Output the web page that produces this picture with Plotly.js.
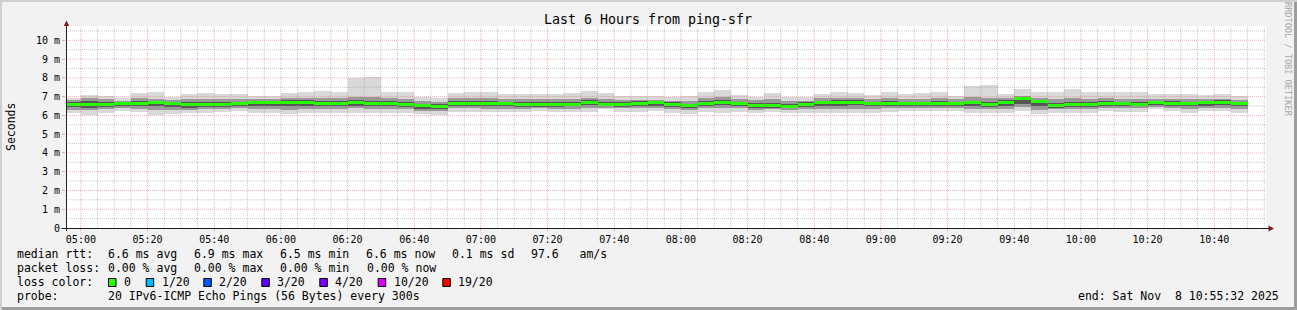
<!DOCTYPE html>
<html>
<head>
<meta charset="utf-8">
<script src="https://cdn.plot.ly/plotly-3.0.1.min.js"></script>
<style>
html,body{margin:0;padding:0;background:#f2f2f2;}
#chart{width:1297px;height:310px;}
</style>
</head>
<body>
<div id="chart"></div>
<script>
// ---- data (milliseconds of round-trip time, one value per 5-minute step) ----
const stepStart = "2025-11-08 04:55:00";   // first (partial) step
const stepSeconds = 300;
const rangeStart = "2025-11-08 04:55:32";
const rangeEnd = "2025-11-08 10:55:32";

const medianRtt = [6.58,6.58,6.58,6.61,6.61,6.67,6.61,6.58,6.58,6.58,
  6.61,6.67,6.68,6.70,6.70,6.65,6.63,6.70,6.61,6.61,
  6.58,6.51,6.49,6.63,6.65,6.61,6.61,6.58,6.58,6.58,
  6.60,6.70,6.58,6.58,6.65,6.68,6.58,6.51,6.63,6.70,
  6.61,6.54,6.54,6.46,6.58,6.68,6.70,6.70,6.61,6.61,
  6.61,6.61,6.61,6.61,6.67,6.58,6.70,6.88,6.72,6.53,
  6.56,6.56,6.65,6.61,6.58,6.68,6.65,6.61,6.68,6.70,6.61];
const maxRtt = [6.93,7.11,7.04,6.91,7.19,7.25,6.98,7.12,7.19,7.12,
  7.12,7.02,7.02,7.19,7.23,7.30,7.23,8.00,8.07,7.23,
  7.23,7.00,6.95,7.19,7.23,7.23,7.12,7.12,7.12,7.12,
  7.19,7.30,7.19,7.02,7.02,7.02,6.98,7.02,7.23,7.33,
  7.09,6.98,7.19,6.98,6.98,7.16,7.23,7.19,7.09,7.23,
  7.16,7.19,7.23,7.05,7.54,7.61,7.16,7.40,7.26,7.26,
  7.40,7.26,7.26,7.26,7.26,7.16,7.16,7.12,7.09,7.16,7.05];
const minRtt = [6.11,6.02,6.14,6.25,6.19,6.02,6.05,6.14,6.14,6.19,
  6.25,6.14,6.11,6.07,6.14,6.11,6.14,6.14,6.14,6.14,
  6.14,6.07,6.02,6.19,6.19,6.19,6.19,6.19,6.25,6.19,
  6.19,6.19,6.32,6.19,6.19,6.25,6.11,6.05,6.19,6.14,
  6.19,6.11,6.19,6.14,6.14,6.11,6.11,6.14,6.11,6.19,
  6.25,6.25,6.25,6.25,6.14,6.11,6.11,6.25,6.07,6.14,
  6.14,6.14,6.25,6.19,6.19,6.32,6.25,6.14,6.25,6.25,6.11];
const lowRtt = [6.30,6.30,6.32,6.40,6.35,6.28,6.30,6.30,6.32,6.35,
  6.38,6.35,6.35,6.30,6.35,6.32,6.35,6.38,6.35,6.35,
  6.35,6.25,6.22,6.38,6.38,6.36,6.36,6.36,6.38,6.36,
  6.36,6.40,6.42,6.38,6.40,6.40,6.32,6.28,6.38,6.40,
  6.38,6.30,6.35,6.28,6.32,6.35,6.35,6.36,6.32,6.38,
  6.40,6.40,6.40,6.40,6.35,6.32,6.35,6.45,6.30,6.32,
  6.34,6.34,6.40,6.38,6.38,6.45,6.40,6.35,6.40,6.40,6.32];
const highRtt = [6.80,6.90,6.88,6.78,6.90,6.88,6.80,6.85,6.88,6.85,
  6.85,6.85,6.85,6.92,6.92,6.95,6.90,7.00,6.98,6.90,
  6.88,6.75,6.72,6.90,6.92,6.90,6.85,6.85,6.85,6.85,
  6.88,6.95,6.85,6.80,6.82,6.82,6.78,6.75,6.90,6.98,
  6.85,6.80,6.88,6.75,6.78,6.90,6.92,6.90,6.85,6.90,
  6.88,6.88,6.90,6.85,7.00,6.95,6.92,7.05,6.92,6.85,
  6.90,6.88,6.90,6.88,6.88,6.88,6.88,6.85,6.85,6.88,6.82];
const coreLowRtt = [6.45,6.42,6.45,6.50,6.48,6.50,6.45,6.38,6.45,6.45,
  6.50,6.52,6.52,6.50,6.52,6.50,6.50,6.52,6.48,6.48,
  6.46,6.35,6.33,6.50,6.52,6.50,6.48,6.45,6.46,6.46,
  6.48,6.55,6.48,6.47,6.50,6.52,6.45,6.40,6.50,6.55,
  6.50,6.42,6.42,6.38,6.45,6.52,6.52,6.55,6.48,6.50,
  6.50,6.50,6.50,6.50,6.50,6.45,6.52,6.62,6.50,6.42,
  6.45,6.45,6.52,6.50,6.48,6.55,6.52,6.48,6.52,6.55,6.48];
const coreHighRtt = [6.70,6.75,6.72,6.70,6.75,6.78,6.70,6.70,6.72,6.70,
  6.72,6.76,6.76,6.80,6.80,6.78,6.75,6.80,6.75,6.75,
  6.70,6.62,6.60,6.75,6.76,6.74,6.72,6.70,6.70,6.70,
  6.72,6.82,6.70,6.70,6.75,6.76,6.70,6.62,6.75,6.82,
  6.72,6.66,6.68,6.60,6.70,6.78,6.80,6.80,6.72,6.74,
  6.72,6.72,6.74,6.72,6.78,6.72,6.80,6.95,6.82,6.66,
  6.70,6.70,6.76,6.73,6.72,6.78,6.76,6.72,6.76,6.80,6.72];

const yTickVals = [0,1,2,3,4,5,6,7,8,9,10];
const yTickText = ["0","1 m","2 m","3 m","4 m","5 m","6 m","7 m","8 m","9 m","10 m"];
const lossLabels = ["0","1/20","2/20","3/20","4/20","10/20","19/20"];
const lossColors = ["#26ff00","#00b8ff","#0059ff","#5e00ff","#7e00ff","#dd00ff","#ff0000"];

// ---- geometry helpers (plot area in pixels) ----
const W = 1297, H = 310;
const L = 66, R = 1266, T = 26, B = 228;
const PW = R - L, PH = B - T;
const yMax = 10.762;
const px = x => (x - L) / PW;
const py = y => (B - y) / PH;
const MONO = "DejaVu Sans Mono";

function toMs(s){ const p = s.split(/[- :]/).map(Number); return Date.UTC(p[0],p[1]-1,p[2],p[3],p[4],p[5]); }
const t0 = toMs(stepStart);
const centers = medianRtt.map((_, i) => t0 + (i + 0.5) * stepSeconds * 1000);

function band(lo, hi, color){
  return {type:"bar", x:centers, base:lo, y:hi.map((h,i)=>h-lo[i]),
    width:stepSeconds*1000, marker:{color:color, line:{width:0}},
    hoverinfo:"skip", showlegend:false};
}
const medHalf = 0.08;
const traces = [
  band(minRtt, maxRtt, "#d9d9d9"),
  band(lowRtt, highRtt, "#999999"),
  band(coreLowRtt, coreHighRtt, "#555555"),
  band(medianRtt.map(v=>v-medHalf), medianRtt.map(v=>v+medHalf), lossColors[0])
];

// ---- grid lines drawn above the smoke (as rrdtool does) ----
const shapes = [];
const gridCol = "rgba(143,143,143,0.5)", mgridCol = "rgba(222,79,79,0.45)";
for (let k = 1; k <= 21; k++) {
  const v = k * 0.5;
  if (v > yMax) break;
  const major = Number.isInteger(v);
  shapes.push({type:"line", xref:"paper", yref:"y", x0:0, x1:1, y0:v, y1:v, layer:"above",
    line:{color: major ? mgridCol : gridCol, width:1, dash:"1px,1px"}});
}
const rStart = toMs(rangeStart), rEnd = toMs(rangeEnd);
for (let t = Math.ceil(rStart/300000)*300000; t <= rEnd; t += 300000) {
  const major = (t % 1200000) === 0;
  shapes.push({type:"line", xref:"x", yref:"paper", x0:t, x1:t, y0:0, y1:1, layer:"above",
    line:{color: major ? mgridCol : gridCol, width:1, dash:"1px,1px"}});
}
// axes and arrows
shapes.push({type:"line", xref:"paper", yref:"paper", x0:px(61.5), x1:px(1269), y0:py(228.5), y1:py(228.5), layer:"above", line:{color:"#1f1f1f", width:1}});
shapes.push({type:"line", xref:"paper", yref:"paper", x0:px(66.5), x1:px(66.5), y0:py(231), y1:py(24), layer:"above", line:{color:"#1f1f1f", width:1}});
function pth(pts){ return "M" + pts.map(p => px(p[0]) + "," + py(p[1])).join(" L") + " Z"; }
shapes.push({type:"path", xref:"paper", yref:"paper", path:pth([[63.8,26],[69.3,26],[66.5,20.5]]), fillcolor:"#801f1f", line:{width:0}, layer:"above"});
shapes.push({type:"path", xref:"paper", yref:"paper", path:pth([[1268.5,225.5],[1268.5,231.5],[1274,228.5]]), fillcolor:"#801f1f", line:{width:0}, layer:"above"});
// frame (3D shade)
shapes.push({type:"rect", xref:"paper", yref:"paper", x0:px(0), x1:px(W), y0:py(0), y1:py(2), fillcolor:"#cfcfcf", line:{width:0}});
shapes.push({type:"rect", xref:"paper", yref:"paper", x0:px(0), x1:px(2), y0:py(0), y1:py(H), fillcolor:"#cfcfcf", line:{width:0}});
shapes.push({type:"rect", xref:"paper", yref:"paper", x0:px(2), x1:px(W), y0:py(H-3), y1:py(H), fillcolor:"#9e9e9e", line:{width:0}});
shapes.push({type:"rect", xref:"paper", yref:"paper", x0:px(W-3), x1:px(W), y0:py(2), y1:py(H), fillcolor:"#9e9e9e", line:{width:0}});

// ---- texts ----
const annotations = [];
function ann(text, x, y, o){
  o = o || {};
  annotations.push(Object.assign({xref:"paper", yref:"paper", x:px(x), y:py(y), text:text,
    showarrow:false, xanchor:"left", yanchor:"middle", borderpad:0,
    font:{family:MONO, size:o.size || 11.5, color:o.color || "#000"}}, o.extra || {}));
}
const NB = s => s.replace(/ /g, "\u00a0");
ann("Seconds", 11, 127, {extra:{xanchor:"center", textangle:-90}});
ann(NB("RRDTOOL / TOBI OETIKER"), 1288, 59, {size:8.6, color:"#a8a8a8", extra:{xanchor:"center", textangle:90}});

ann("median rtt:", 16, 254);
[["6.6 ms avg",107.3],["6.9 ms max",193.3],["6.5 ms min",279.3],["6.6 ms now",365.3],["0.1 ms sd",451.3],["97.6   am/s",530.3]]
  .forEach(a => ann(NB(a[0]), a[1], 254));
ann("packet loss:", 16, 268.3);
[["0.00 % avg",107.3],["0.00 % max",193.3],["0.00 % min",279.3],["0.00 % now",365.6]]
  .forEach(a => ann(NB(a[0]), a[1], 268.3));
ann("loss color:", 16, 282);
const boxX = [108, 145.7, 203.3, 261.3, 319.3, 377.7, 442.3];
lossLabels.forEach((lab, i) => {
  shapes.push({type:"rect", xref:"paper", yref:"paper", x0:px(boxX[i]+0.5), x1:px(boxX[i]+8), y0:py(278.5), y1:py(286.5),
    fillcolor:lossColors[i], line:{color:"#000", width:1}});
  ann(lab, boxX[i] + 15, 282);
});
ann("probe:", 16, 296.3);
ann(NB("20 IPv6-ICMP Echo Pings (56 Bytes) every 300s"), 107.3, 296.3);
ann(NB("end: Sat Nov  8 10:55:32 2025"), 1280, 296.3, {extra:{xanchor:"right"}});

const layout = {
  width:W, height:H,
  margin:{l:L, r:W-R, t:T, b:H-B, pad:0},
  paper_bgcolor:"#f2f2f2", plot_bgcolor:"#ffffff",
  barmode:"overlay", bargap:0,
  showlegend:false,
  title:{text:"Last 6 Hours from ping-sfr", font:{family:MONO, size:13.3, color:"#000"},
    xref:"container", yref:"container", x:648/W, xanchor:"center", y:1-19/H, yanchor:"middle"},
  xaxis:{type:"date", range:[rStart, rEnd], showgrid:false, zeroline:false, showline:false,
    tick0:"2025-11-08 05:00:00", dtick:1200000, tickformat:"%H:%M",
    ticks:"outside", ticklen:2, tickcolor:mgridCol,
    tickfont:{family:MONO, size:10, color:"#000"}, fixedrange:true},
  yaxis:{range:[0, yMax], tickvals:yTickVals, ticktext:yTickText, showgrid:false, zeroline:false, showline:false,
    ticks:"outside", ticklen:3, tickcolor:mgridCol,
    tickfont:{family:MONO, size:10, color:"#000"}, fixedrange:true},
  shapes:shapes, annotations:annotations
};
Plotly.newPlot("chart", traces, layout, {staticPlot:true, displayModeBar:false});
</script>
</body>
</html>
